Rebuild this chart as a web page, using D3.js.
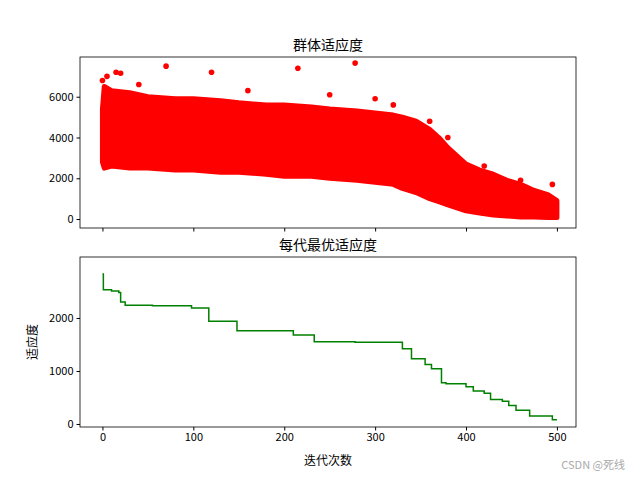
<!DOCTYPE html><html><head><meta charset="utf-8"><script src="https://cdn.jsdelivr.net/npm/d3@7"></script>
<style>body{margin:0;background:#fff}text{font-family:"Noto Sans CJK SC","DejaVu Sans",sans-serif}</style></head><body>
<svg id="c" width="640" height="480"></svg>
<script>
// population fitness envelope
const envGen   = [0,2,10,30,50,80,100,130,150,180,200,230,250,280,300,320,330,345,360,370,380,390,400,415,430,445,460,475,490,500];
const envUpper = [5400,6500,6300,6200,6000,5900,5900,5800,5700,5600,5600,5500,5400,5300,5200,5100,5000,4800,4400,4000,3500,3100,2700,2400,2200,1900,1700,1400,1200,900];
const envLower = [2800,2500,2600,2500,2500,2400,2400,2300,2300,2200,2100,2100,2000,1900,1800,1700,1500,1300,1000,850,700,550,400,300,200,150,100,100,80,80];
const outGen = [0,5,15,20,40,70,120,160,215,250,278,300,320,360,380,420,460,495];
const outVal = [6800,7000,7200,7150,6600,7500,7200,6300,7400,6100,7650,5900,5600,4800,4000,2600,1900,1700];
// best fitness per generation (step points)
const bestGen = [0,1,10,18,20,25,55,98,112,117,148,210,233,278,330,340,355,362,373,378,400,408,420,427,440,447,455,470,495,500];
const bestVal = [2830,2530,2510,2480,2300,2240,2230,2190,2190,1940,1760,1680,1550,1540,1420,1230,1120,1040,780,760,700,620,580,460,430,350,260,150,80,80];

const svg=d3.select("#c");
const L=80,R=576;
const x=d3.scaleLinear().domain([-24.7,521]).range([L,R]);
function frame(top,bot,y,ticks,title,showX){
  const g=svg.append("g");
  g.append("g").attr("transform",`translate(0,${bot})`).call(d3.axisBottom(x).tickValues([0,100,200,300,400,500]).tickSize(3.5).tickFormat(showX?d3.format("d"):"")).call(a=>a.select(".domain").remove());
  g.append("g").attr("transform",`translate(${L},0)`).call(d3.axisLeft(y).tickValues(ticks).tickSize(3.5).tickFormat(d3.format("d"))).call(a=>a.select(".domain").remove());
  g.selectAll(".tick text").attr("font-size",11).attr("fill","#000").style("font-family","'Noto Sans CJK SC'");
  g.append("rect").attr("x",L).attr("y",top).attr("width",R-L).attr("height",bot-top).attr("fill","none").attr("stroke","#000").attr("stroke-width",0.8);
  g.append("text").attr("x",(L+R)/2).attr("y",top-7).attr("text-anchor","middle").attr("font-size",14).text(title);
}
const y1=d3.scaleLinear().domain([-440,7950]).range([228,57]);
const y2=d3.scaleLinear().domain([-57,3150]).range([427,257]);
const idx=d3.range(envGen.length);
svg.append("path").datum(idx).attr("fill","#f00").attr("stroke","#f00").attr("stroke-width",5).attr("stroke-linejoin","round")
 .attr("d",d3.area().x(i=>x(envGen[i])).y0(i=>y1(envLower[i])).y1(i=>y1(envUpper[i])).curve(d3.curveLinear));
svg.selectAll(".o").data(outGen).join("circle").attr("cx",d=>x(d)).attr("cy",(d,i)=>y1(outVal[i])).attr("r",2.8).attr("fill","#f00");
frame(57,228,y1,[0,2000,4000,6000],"群体适应度",false);
svg.append("path").datum(idx.slice(0,bestGen.length)).attr("fill","none").attr("stroke","green").attr("stroke-width",1.5)
 .attr("d",d3.line().x(i=>x(bestGen[i])).y(i=>y2(bestVal[i])).curve(d3.curveStepAfter));
frame(257,427,y2,[0,1000,2000],"每代最优适应度",true);
svg.append("text").attr("x",(L+R)/2).attr("y",465).attr("text-anchor","middle").attr("font-size",12).text("迭代次数");
svg.append("text").attr("transform","translate(37,342) rotate(-90)").attr("text-anchor","middle").attr("font-size",12).text("适应度");
svg.append("text").attr("x",625).attr("y",469).attr("text-anchor","end").attr("font-size",11).attr("fill","#aaa").text("CSDN @死线");
</script></body></html>
